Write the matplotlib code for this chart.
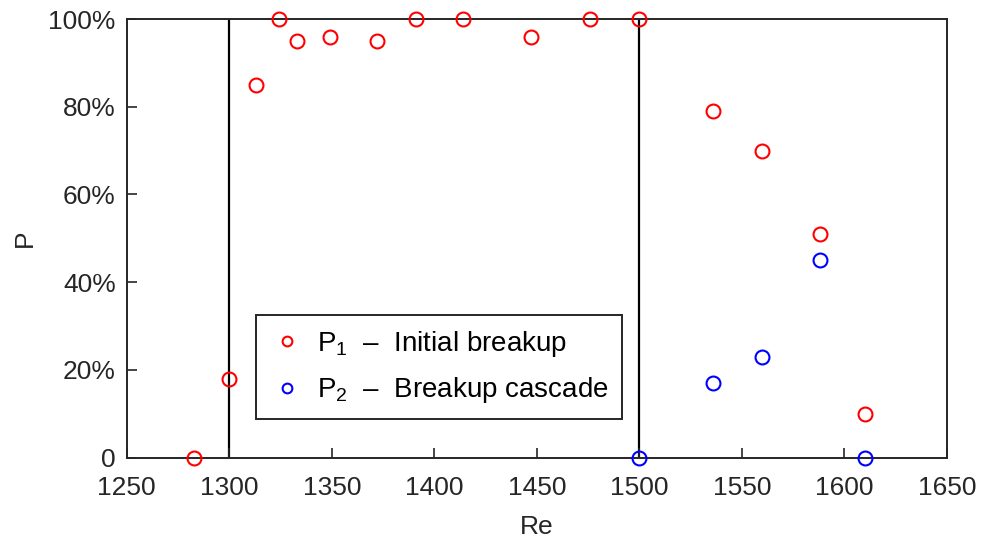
import matplotlib.pyplot as plt
from matplotlib.ticker import FuncFormatter

plt.rcParams['font.family'] = ['Liberation Sans', 'DejaVu Sans']
plt.rcParams['mathtext.fontset'] = 'custom'
plt.rcParams['mathtext.rm'] = 'Liberation Sans'

# initial breakup probability
re_p1 = [1283, 1300, 1313, 1324, 1333, 1349, 1372, 1391, 1414, 1447, 1476, 1500,
         1536, 1560, 1588, 1610]
p1 = [0, 18, 85, 100, 95, 96, 95, 100, 100, 96, 100, 100, 79, 70, 51, 10]

# breakup cascade probability
re_p2 = [1500, 1536, 1560, 1588, 1610]
p2 = [0, 17, 23, 45, 0]

re_bounds = [1300, 1500]
x_ticks = [1250, 1300, 1350, 1400, 1450, 1500, 1550, 1600, 1650]
y_ticks = [0, 20, 40, 60, 80, 100]

text_color = '#262626'

fig = plt.figure(figsize=(9.85, 5.45), dpi=100)
ax = fig.add_axes([0.1287, 0.1605, 0.8327, 0.8045])

for xb in re_bounds:
    ax.axvline(xb, color='black', lw=1.6, zorder=1)

ax.plot(re_p1, p1, 'o', mfc='none', mec='red', ms=10, mew=1.5, ls='none',
        clip_on=False, zorder=3, label=r'$\mathregular{P_{1}}$  –  Initial breakup')
ax.plot(re_p2, p2, 'o', mfc='none', mec='blue', ms=10, mew=1.5, ls='none',
        clip_on=False, zorder=3, label=r'$\mathregular{P_{2}}$  –  Breakup cascade')

ax.set_xlim(1250, 1650)
ax.set_ylim(0, 100)
ax.set_xticks(x_ticks)
ax.set_yticks(y_ticks)
ax.yaxis.set_major_formatter(FuncFormatter(lambda v, _: '0' if v == 0 else f'{v:.0f}%'))

ax.tick_params(direction='in', length=7, width=1.2, labelsize=19,
               colors=text_color)
ax.tick_params(axis='x', pad=13)
ax.tick_params(axis='y', pad=8)
for s in ax.spines.values():
    s.set_color(text_color)
    s.set_linewidth(1.4)

ax.set_xlabel('Re', fontsize=19, color=text_color, labelpad=11)
ax.set_ylabel('P', fontsize=19, color=text_color, labelpad=8)

leg = ax.legend(loc='lower left', bbox_to_anchor=(0.157, 0.087), fontsize=20,
                markerscale=0.7, handletextpad=0.4, borderpad=0.5,
                labelspacing=0.6, fancybox=False, framealpha=1,
                edgecolor=text_color, handlelength=1.3, borderaxespad=0)
leg.get_frame().set_linewidth(1.4)
for t in leg.get_texts():
    t.set_color('black')

fig.savefig('out.png', dpi=100)
